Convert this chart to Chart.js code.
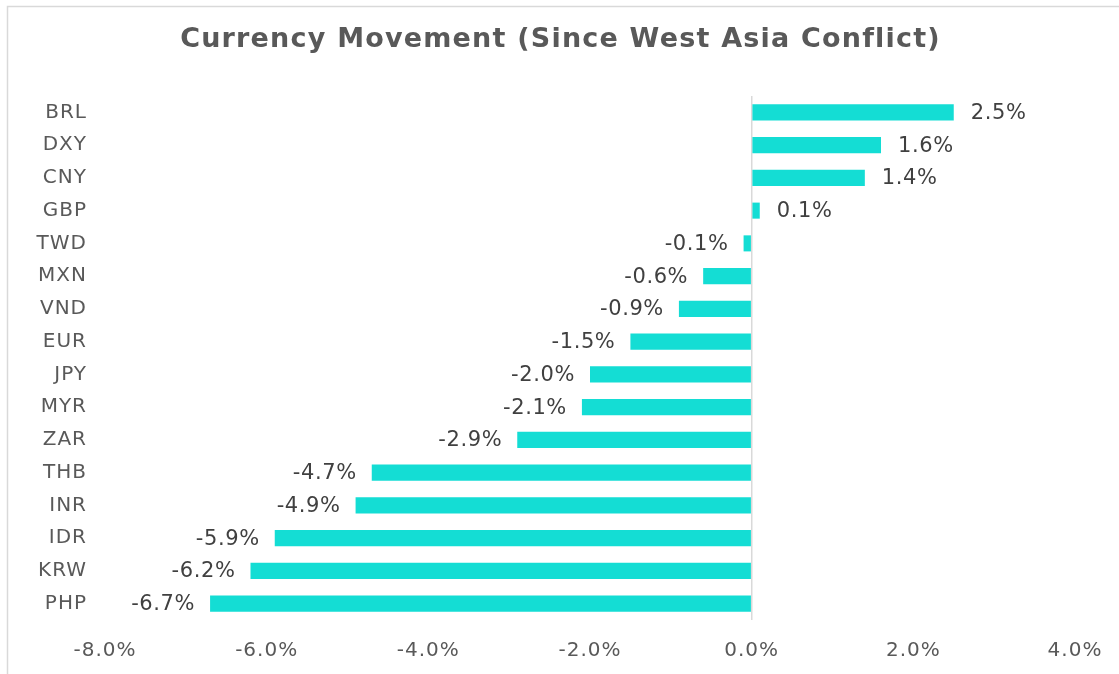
<!DOCTYPE html>
<html>
<head>
<meta charset="utf-8">
<script src="https://cdn.jsdelivr.net/npm/chart.js@4"></script>
<style>
  html, body { margin: 0; padding: 0; background: #fff; }
  #wrap { width: 1119px; height: 674px; position: relative; }
</style>
</head>
<body>
<div id="wrap"><canvas id="myChart" width="1119" height="674"></canvas></div>
<script>
const currencies = ['BRL', 'DXY', 'CNY', 'GBP', 'TWD', 'MXN', 'VND', 'EUR', 'JPY', 'MYR', 'ZAR', 'THB', 'INR', 'IDR', 'KRW', 'PHP'];
const movement = [2.5, 1.6, 1.4, 0.1, -0.1, -0.6, -0.9, -1.5, -2.0, -2.1, -2.9, -4.7, -4.9, -5.9, -6.2, -6.7];
const xTicks = [-8, -6, -4, -2, 0, 2, 4];
const chartTitle = 'Currency Movement (Since West Asia Conflict)';

const fontName = "'DejaVu Sans', sans-serif";

// a little letter spacing, the original font is quite wide
const spacing = {
    id: 'spacing',
    beforeUpdate(chart) { chart.ctx.letterSpacing = '1px'; },
    beforeDraw(chart) { chart.ctx.letterSpacing = '1px'; }
};

// frame line round the chart + title
const framePlugin = {
    id: 'frame',
    beforeDraw(chart) {
        const c = chart.ctx;
        c.save();
        c.strokeStyle = '#d9d9d9';
        c.lineWidth = 1.5;
        c.beginPath();
        c.moveTo(7.5, chart.height);
        c.lineTo(7.5, 6.5);
        c.lineTo(chart.width, 6.5);
        c.stroke();

        c.letterSpacing = '1.2px';
        c.font = 'bold 27px ' + fontName;
        c.fillStyle = '#595959';
        c.textAlign = 'center';
        c.textBaseline = 'alphabetic';
        c.fillText(chartTitle, chart.width / 2 + 1, 47);
        c.restore();
    }
};

// value labels at bar ends
const valueLabels = {
    id: 'valueLabels',
    afterDatasetsDraw(chart) {
        const c = chart.ctx;
        const meta = chart.getDatasetMeta(0);
        c.save();
        c.letterSpacing = '0.6px';
        c.font = '21px ' + fontName;
        c.fillStyle = '#404040';
        c.textBaseline = 'middle';
        meta.data.forEach(function(bar, i) {
            const v = movement[i];
            const txt = v.toFixed(1) + '%';
            if (v >= 0) {
                c.textAlign = 'left';
                c.fillText(txt, bar.x + 17, bar.y + 1);
            } else {
                c.textAlign = 'right';
                c.fillText(txt, bar.x - 15, bar.y + 1);
            }
        });
        c.restore();
    }
};

const ctx = document.getElementById('myChart').getContext('2d');

new Chart(ctx, {
    type: 'bar',
    data: {
        labels: currencies,
        datasets: [
            {
                label: 'Movement',
                data: movement,
                backgroundColor: '#14ddd4',
                borderWidth: 0,
                barPercentage: 0.49,
                categoryPercentage: 1
            }
        ]
    },
    options: {
        indexAxis: 'y',
        responsive: false,
        animation: false,
        layout: {
            padding: { top: 96, right: 0, bottom: 11, left: 0 }
        },
        plugins: {
            legend: { display: false },
            tooltip: { enabled: false },
            title: { display: false }
        },
        scales: {
            x: {
                min: -8,
                max: 4,
                afterBuildTicks(scale) {
                    scale.ticks = xTicks.map(function(v) { return { value: v }; });
                },
                afterFit(scale) {
                    scale.height = 43;
                    scale.paddingLeft = 0;
                    scale.paddingRight = 0;
                },
                border: { display: false },
                grid: {
                    drawTicks: false,
                    lineWidth: 1.5,
                    color: function(c) {
                        return c.tick && c.tick.value === 0 ? '#d9d9d9' : 'rgba(0,0,0,0)';
                    }
                },
                ticks: {
                    padding: 19,
                    maxRotation: 0,
                    color: '#595959',
                    font: { family: fontName, size: 20 },
                    callback: function(v) { return Number(v).toFixed(1) + '%'; }
                }
            },
            y: {
                border: { display: false },
                grid: { display: false, drawTicks: false },
                afterFit(scale) { scale.width = 105; },
                ticks: {
                    padding: 18,
                    color: '#595959',
                    font: { family: fontName, size: 20 }
                }
            },
            // empty right-hand spacer so the plot ends at 4% like the original
            yRight: {
                position: 'right',
                border: { display: false },
                grid: { display: false, drawTicks: false },
                ticks: { display: false },
                afterFit(scale) { scale.width = 44; }
            }
        }
    },
    plugins: [spacing, framePlugin, valueLabels]
});
</script>
</body>
</html>
